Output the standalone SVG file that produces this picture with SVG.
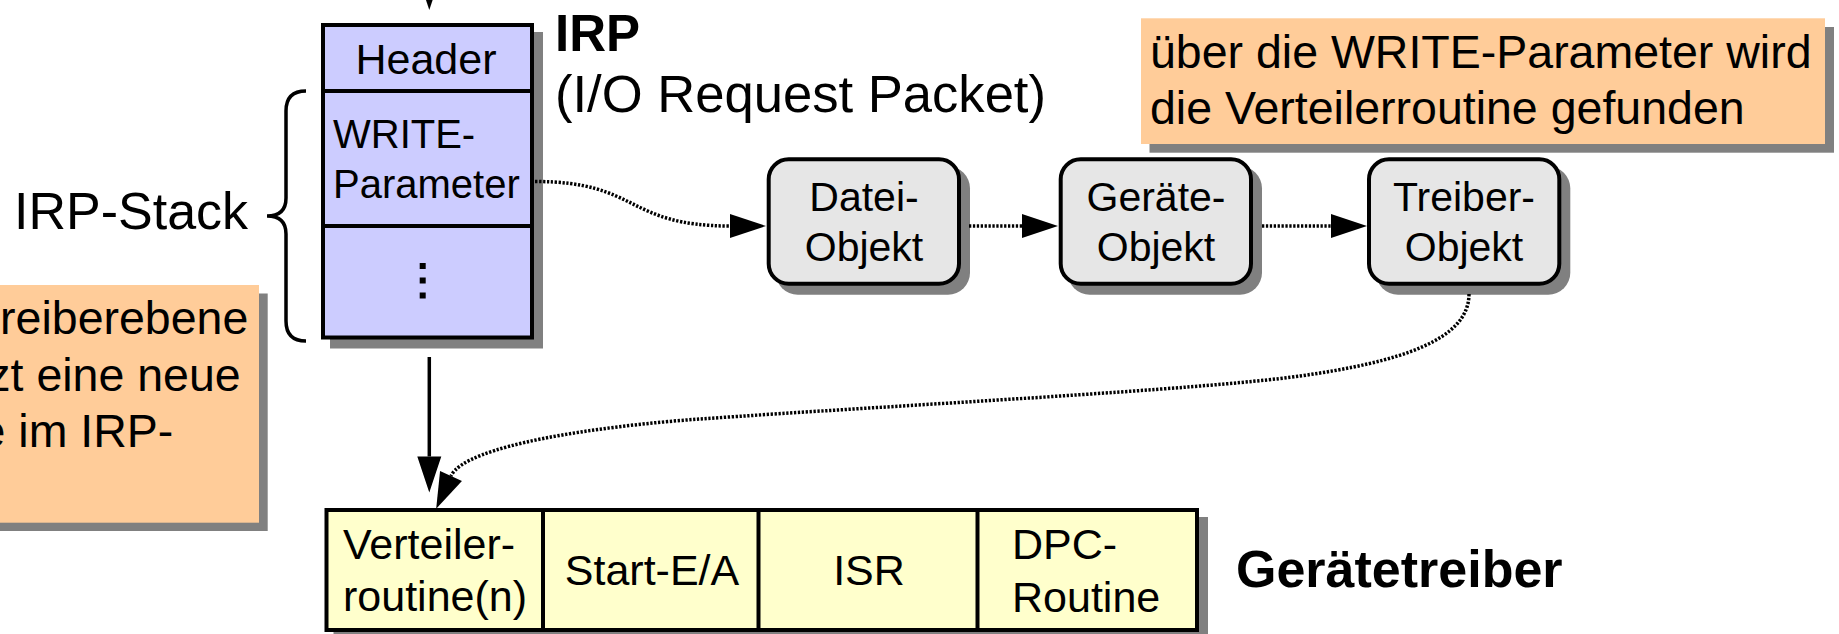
<svg xmlns="http://www.w3.org/2000/svg" width="1839" height="634" viewBox="0 0 1839 634">
  <style>
    .t { font-family: "Liberation Sans", Arial, sans-serif; fill: #000; }
    .b { font-weight: bold; }
    .shadow { fill: #808080; }
    .box { stroke: #000; stroke-width: 4; }
    .irp { fill: #ccccff; }
    .obj { fill: #e6e6e6; }
    .drv { fill: #ffffcc; }
    .note { fill: #ffcc99; }
    .solid { fill: none; stroke: #000; stroke-width: 3.5; }
    .dotted { fill: none; stroke: #000; stroke-width: 3.5; stroke-dasharray: 2.3 1.6; }
  </style>
  <defs>
    <marker id="ah" markerUnits="userSpaceOnUse" markerWidth="36" markerHeight="24" refX="0" refY="12" orient="auto" overflow="visible">
      <path d="M0,0 L36,12 L0,24 z" fill="#000"/>
    </marker>
  </defs>

  <rect width="1839" height="634" fill="#fff"/>

  <!-- left note (cut off at left edge) -->
  <g id="note-left">
    <rect class="shadow" x="-2" y="293.5" width="269.7" height="237.5"/>
    <rect class="note" x="-10" y="285" width="269" height="237.7"/>
    <text class="t" font-size="46.5" text-anchor="end" x="248.3" y="334.3">reiberebene</text>
    <text class="t" font-size="46.5" text-anchor="end" x="240.7" y="390.7">zt eine neue</text>
    <text class="t" font-size="46.5" text-anchor="end" x="173.3" y="446.7">e im IRP-</text>
  </g>

  <!-- IRP-Stack label and brace -->
  <g id="irp-stack">
    <text class="t" font-size="52" x="14" y="229.3">IRP-Stack</text>
    <path class="solid" d="M306,91 Q286,91 286,111 L286,198 Q286,216 267,216 Q286,216 286,234 L286,321 Q286,341 306,341"/>
  </g>

  <!-- IRP box -->
  <g id="irp">
    <rect class="shadow" x="330" y="32" width="213" height="316.5"/>
    <rect class="box irp" x="323" y="25" width="209" height="312.5"/>
    <line class="box" x1="323" y1="91" x2="532" y2="91"/>
    <line class="box" x1="323" y1="226" x2="532" y2="226"/>
    <text class="t" font-size="43" text-anchor="middle" x="426" y="74">Header</text>
    <text class="t" font-size="40" x="333" y="148.3">WRITE-</text>
    <text class="t" font-size="40" x="333" y="198">Parameter</text>
    <rect x="419.7" y="263" width="6" height="6"/>
    <rect x="419.7" y="277.5" width="6" height="6"/>
    <rect x="419.7" y="292.5" width="6" height="6"/>
  </g>

  <g id="irp-title">
    <text class="t b" font-size="51" x="555" y="50.7">IRP</text>
    <text class="t" font-size="51" x="555" y="111.7" textLength="491" lengthAdjust="spacingAndGlyphs">(I/O Request Packet)</text>
  </g>

  <!-- top right note -->
  <g id="note-right">
    <rect class="shadow" x="1149.5" y="27" width="684.5" height="125.7"/>
    <rect class="note" x="1141" y="18.3" width="684" height="125.7"/>
    <text class="t" font-size="46.5" x="1150" y="68.3">über die WRITE-Parameter wird</text>
    <text class="t" font-size="46.5" x="1150" y="124">die Verteilerroutine gefunden</text>
  </g>

  <!-- objects -->
  <g id="datei">
    <rect class="shadow" x="775.7" y="166.3" width="194.3" height="128.4" rx="22"/>
    <rect class="box obj" x="768.7" y="159.3" width="190.3" height="124.4" rx="20"/>
    <text class="t" font-size="41" text-anchor="middle" x="864" y="210.7">Datei-</text>
    <text class="t" font-size="41" text-anchor="middle" x="864" y="260.7">Objekt</text>
  </g>
  <g id="geraete">
    <rect class="shadow" x="1067.7" y="166.3" width="194.3" height="128.4" rx="22"/>
    <rect class="box obj" x="1060.7" y="159.3" width="190.3" height="124.4" rx="20"/>
    <text class="t" font-size="41" text-anchor="middle" x="1156" y="210.7">Geräte-</text>
    <text class="t" font-size="41" text-anchor="middle" x="1156" y="260.7">Objekt</text>
  </g>
  <g id="treiber">
    <rect class="shadow" x="1376" y="166.3" width="194.3" height="128.4" rx="22"/>
    <rect class="box obj" x="1369" y="159.3" width="190.3" height="124.4" rx="20"/>
    <text class="t" font-size="41" text-anchor="middle" x="1464" y="210.7">Treiber-</text>
    <text class="t" font-size="41" text-anchor="middle" x="1464" y="260.7">Objekt</text>
  </g>

  <!-- driver table -->
  <g id="geraetetreiber">
    <rect class="shadow" x="333.5" y="517" width="874.5" height="130"/>
    <rect class="box drv" x="326.5" y="510" width="870.5" height="120"/>
    <line class="box" x1="543" y1="510" x2="543" y2="630"/>
    <line class="box" x1="758.5" y1="510" x2="758.5" y2="630"/>
    <line class="box" x1="977.5" y1="510" x2="977.5" y2="630"/>
    <text class="t" font-size="43" x="343" y="559">Verteiler-</text>
    <text class="t" font-size="43" x="343" y="610.7">routine(n)</text>
    <text class="t" font-size="43" text-anchor="middle" x="652" y="585">Start-E/A</text>
    <text class="t" font-size="43" text-anchor="middle" x="869" y="585">ISR</text>
    <text class="t" font-size="43" x="1012" y="559.3">DPC-</text>
    <text class="t" font-size="43" x="1012" y="611.7">Routine</text>
    <text class="t b" font-size="52" x="1236" y="586.7">Gerätetreiber</text>
  </g>

  <!-- connectors -->
  <g id="connectors">
    <path class="solid" d="M429.3,-80 L429.3,-26" marker-end="url(#ah)"/>
    <path class="solid" d="M429.3,357 L429.3,456.5" marker-end="url(#ah)"/>
    <path class="dotted" d="M535,181.5 C640,181.5 625,226 730,226" marker-end="url(#ah)"/>
    <path class="dotted" d="M969,226 L1022,226" marker-end="url(#ah)"/>
    <path class="dotted" d="M1262,226 L1331,226" marker-end="url(#ah)"/>
    <path class="dotted" d="M1469,294 C1469,340 1400,362 1300,376 C1200,390 900,405 700,419 C600,426 465,445 451,476" marker-end="url(#ah)"/>
  </g>
</svg>
